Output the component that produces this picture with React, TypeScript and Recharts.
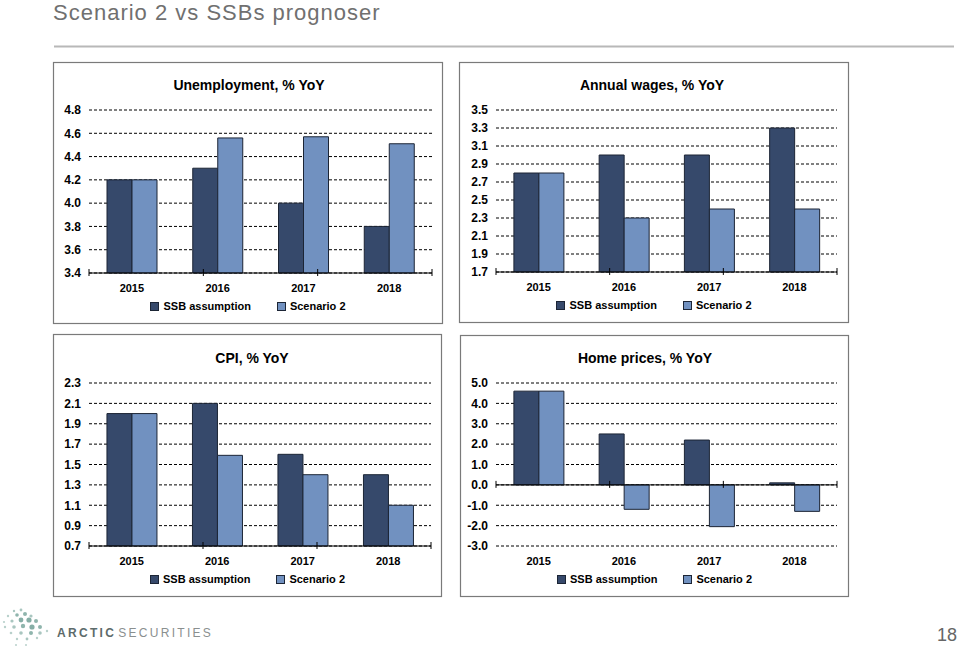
import React from 'react';
import { BarChart, Bar, XAxis, YAxis, CartesianGrid, Legend, ReferenceLine } from 'recharts';

const years = ['2015', '2016', '2017', '2018'];
const seriesNames = ['SSB assumption', 'Scenario 2'];

const unemploymentSsb = [4.2, 4.3, 4.0, 3.8];
const unemploymentScenario = [4.2, 4.56, 4.57, 4.51];
const unemploymentTicks = [3.4, 3.6, 3.8, 4.0, 4.2, 4.4, 4.6, 4.8];

const wagesSsb = [2.8, 3.0, 3.0, 3.3];
const wagesScenario = [2.8, 2.3, 2.4, 2.4];
const wagesTicks = [1.7, 1.9, 2.1, 2.3, 2.5, 2.7, 2.9, 3.1, 3.3, 3.5];

const cpiSsb = [2.0, 2.1, 1.6, 1.4];
const cpiScenario = [2.0, 1.59, 1.4, 1.1];
const cpiTicks = [0.7, 0.9, 1.1, 1.3, 1.5, 1.7, 1.9, 2.1, 2.3];

const homeSsb = [4.6, 2.5, 2.2, 0.1];
const homeScenario = [4.6, -1.2, -2.05, -1.3];
const homeTicks = [-3, -2, -1, 0, 1, 2, 3, 4, 5];

const SSB_COLOR = '#36496b';
const SCEN_COLOR = '#7191c0';
const BAR_EDGE = '#1c2535';
const FONT = '"Liberation Sans", Arial, Helvetica, sans-serif';

// category boundaries for the little cross ticks on the x axis
const edges = [...years.map((_, i) => i), years.length];

interface PanelProps {
  ssb: number[];
  scenario: number[];
  ticks: number[];
  left: number;
  top: number;
  width: number;
  height: number;
  yWidth: number;
  marginTop: number;
  marginRight: number;
  zeroAxis?: boolean;
}

const LegendBox = ({ payload }: any) => (
  <div style={{
    display: 'flex', justifyContent: 'center', alignItems: 'center', height: 14,
    fontFamily: FONT, fontSize: 11, fontWeight: 'bold', color: '#000',
  }}>
    {(payload || []).map((p: any, i: number) => (
      <span key={p.value} style={{ display: 'flex', alignItems: 'center', marginLeft: i ? 26 : 0 }}>
        <span style={{
          width: 7, height: 7, background: p.color, border: `1px solid ${BAR_EDGE}`, marginRight: 4,
        }} />
        {p.value}
      </span>
    ))}
  </div>
);

const Panel: React.FC<PanelProps> = ({
  ssb, scenario, ticks, left, top, width, height, yWidth, marginTop, marginRight, zeroAxis,
}) => {
  const data = years.map((year, i) => ({ year, ssb: ssb[i], scenario: scenario[i] }));
  const min = ticks[0];
  const max = ticks[ticks.length - 1];
  const base = zeroAxis ? 0 : min;
  const unit = (max - min) / 163;

  return (
    <div style={{ position: 'absolute', left, top }}>
      <BarChart
        width={width}
        height={height}
        data={data}
        margin={{ top: marginTop, right: marginRight, left: 0, bottom: 11 }}
        barCategoryGap="21%"
        barGap={0}
        style={{ fontFamily: FONT }}
      >
        <CartesianGrid vertical={false} stroke="#000" strokeDasharray="3 2" />
        <XAxis
          dataKey="year"
          height={26}
          tickLine={false}
          tickMargin={5}
          axisLine={zeroAxis ? false : { stroke: '#000' }}
          tick={{ fontSize: 11, fontWeight: 'bold', fill: '#000' }}
        />
        <XAxis xAxisId="edge" type="number" domain={[0, years.length]} hide />
        <YAxis
          type="number"
          domain={[min, max]}
          ticks={ticks}
          interval={0}
          width={yWidth}
          axisLine={false}
          tickLine={false}
          tickFormatter={(v: number) => v.toFixed(1)}
          tick={{ fontSize: 12, fontWeight: 'bold', fill: '#000' }}
        />
        <Bar dataKey="ssb" name={seriesNames[0]} fill={SSB_COLOR} stroke={BAR_EDGE} strokeWidth={1} isAnimationActive={false} />
        <Bar dataKey="scenario" name={seriesNames[1]} fill={SCEN_COLOR} stroke={BAR_EDGE} strokeWidth={1} isAnimationActive={false} />
        {zeroAxis && <ReferenceLine y={0} stroke="#000" strokeWidth={1} ifOverflow="visible" />}
        {edges.map((e) => (
          <ReferenceLine
            key={e}
            xAxisId="edge"
            ifOverflow="visible"
            stroke="#000"
            segment={[{ x: e, y: base - unit * 3 }, { x: e, y: base + unit * 4 }]}
          />
        ))}
        <Legend
          verticalAlign="bottom"
          content={<LegendBox />}
          wrapperStyle={{ left: 0, width }}
        />
      </BarChart>
    </div>
  );
};

const dots: [number, number, number, string][] = [
  [14, 611, 1.2, '#a9c6c0'], [21, 610, 1.4, '#a9c6c0'],
  [8, 616, 1.2, '#b8d0cb'], [17, 615, 1.8, '#8fb5ad'], [25, 614, 2, '#8fb5ad'], [31, 616, 1.6, '#a9c6c0'],
  [4, 622, 1.1, '#b8d0cb'], [12, 621, 1.6, '#a9c6c0'], [21, 620, 2.4, '#86aea6'], [29, 620, 2.6, '#86aea6'], [36, 621, 2, '#8fb5ad'],
  [5, 627, 1.2, '#b8d0cb'], [14, 627, 1.8, '#a9c6c0'], [23, 626, 2.2, '#8fb5ad'], [32, 627, 2.6, '#86aea6'], [40, 627, 2, '#8fb5ad'],
  [11, 633, 1.3, '#b8d0cb'], [21, 633, 1.8, '#a9c6c0'], [31, 633, 2, '#8fb5ad'], [40, 633, 1.8, '#a9c6c0'], [47, 631, 1.2, '#b8d0cb'],
  [17, 639, 1.2, '#b8d0cb'], [27, 639, 1.4, '#a9c6c0'], [37, 638, 1.2, '#b8d0cb'],
  [16, 645, 1, '#b8d0cb'], [26, 645, 1, '#b8d0cb'],
];

const App: React.FC = () => (
  <div style={{ position: 'absolute', left: 0, top: 0, width: 960, height: 647, background: '#fff', overflow: 'hidden' }}>
    <svg width={960} height={647} style={{ position: 'absolute', left: 0, top: 0 }} fontFamily={FONT}>
      <text x={53} y={20} fontSize={22} fill="#707070" letterSpacing={1}>Scenario 2 vs SSBs prognoser</text>
      <line x1={54} y1={46.5} x2={954} y2={46.5} stroke="#b8b8b8" strokeWidth={2} />

      <rect x={53.5} y={62.5} width={389} height={261} fill="none" stroke="#7a7a7a" strokeWidth={1.2} />
      <rect x={459.5} y={62.5} width={389} height={260} fill="none" stroke="#7a7a7a" strokeWidth={1.2} />
      <rect x={53.5} y={334.5} width={388} height={262} fill="none" stroke="#7a7a7a" strokeWidth={1.2} />
      <rect x={460.5} y={335.5} width={388} height={261} fill="none" stroke="#7a7a7a" strokeWidth={1.2} />

      <text x={249} y={90} fontSize={14} fontWeight="bold" textAnchor="middle" fill="#000">Unemployment, % YoY</text>
      <text x={652} y={90} fontSize={14} fontWeight="bold" textAnchor="middle" fill="#000">Annual wages, % YoY</text>
      <text x={252} y={363} fontSize={14} fontWeight="bold" textAnchor="middle" fill="#000">CPI, % YoY</text>
      <text x={645} y={363} fontSize={14} fontWeight="bold" textAnchor="middle" fill="#000">Home prices, % YoY</text>

      {dots.map(([x, y, r, c], i) => <circle key={i} cx={x} cy={y} r={r} fill={c} />)}
      <text x={57} y={637} fontSize={12} letterSpacing={2.3}>
        <tspan fill="#5d6b6b" fontWeight="bold">ARCTIC</tspan>
        <tspan fill="#8a8f8f" dx={2}>SECURITIES</tspan>
      </text>
      <text x={957} y={641} fontSize={18} fill="#666" textAnchor="end">18</text>
    </svg>

    <Panel ssb={unemploymentSsb} scenario={unemploymentScenario} ticks={unemploymentTicks}
      left={53} top={62} width={390} height={262} yWidth={36} marginTop={48} marginRight={11} />
    <Panel ssb={wagesSsb} scenario={wagesScenario} ticks={wagesTicks}
      left={459} top={62} width={390} height={261} yWidth={37} marginTop={48} marginRight={12} />
    <Panel ssb={cpiSsb} scenario={cpiScenario} ticks={cpiTicks}
      left={53} top={334} width={389} height={263} yWidth={36} marginTop={49} marginRight={11} />
    <Panel ssb={homeSsb} scenario={homeScenario} ticks={homeTicks}
      left={460} top={335} width={389} height={262} yWidth={36} marginTop={48} marginRight={12} zeroAxis />
  </div>
);

export default App;
